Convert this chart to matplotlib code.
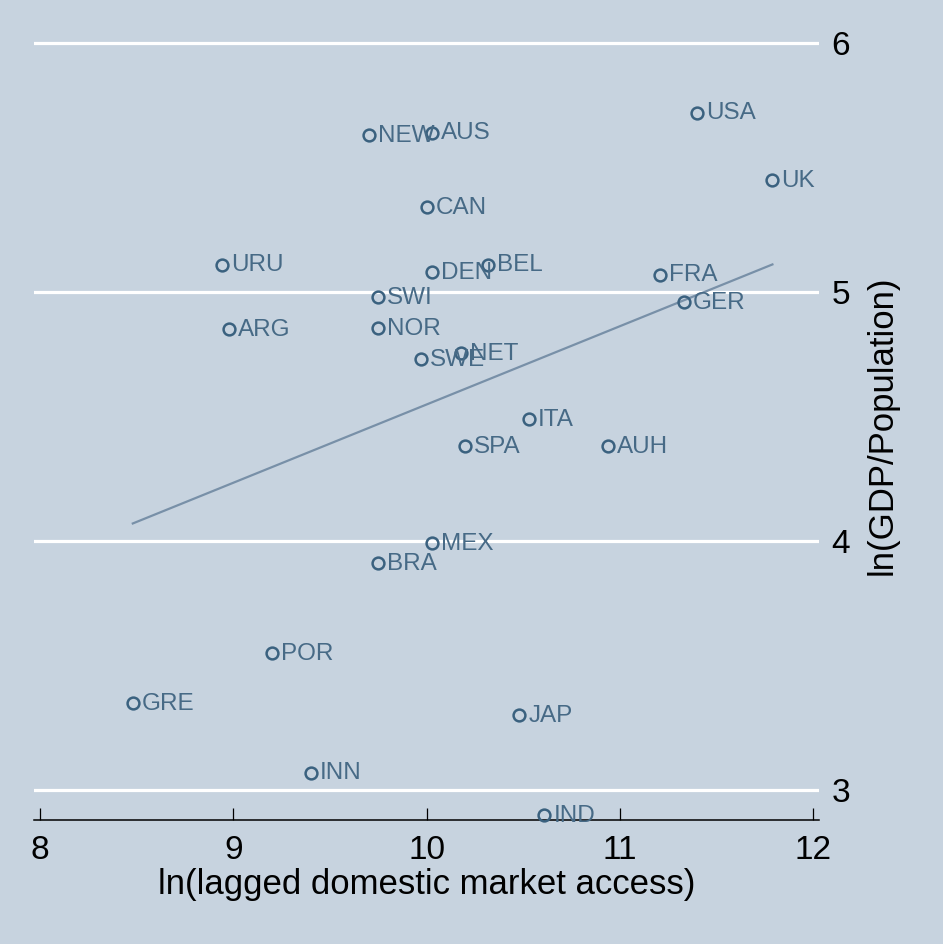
import matplotlib
matplotlib.use("Agg")
import matplotlib.pyplot as plt
import numpy as np

# country codes and values
countries = ["USA", "NEW", "AUS", "UK", "CAN", "URU", "DEN", "BEL", "FRA",
             "SWI", "GER", "ARG", "NOR", "SWE", "NET", "ITA", "SPA", "AUH",
             "MEX", "BRA", "POR", "GRE", "JAP", "INN", "IND"]
market_access = [11.40, 9.70, 10.03, 11.79, 10.00, 8.94, 10.03, 10.32, 11.21,
                 9.75, 11.33, 8.98, 9.75, 9.97, 10.18, 10.53, 10.20, 10.94,
                 10.03, 9.75, 9.20, 8.48, 10.48, 9.40, 10.61]
gdp_pc = [5.72, 5.63, 5.64, 5.45, 5.34, 5.11, 5.08, 5.11, 5.07,
          4.98, 4.96, 4.85, 4.855, 4.73, 4.755, 4.49, 4.38, 4.38,
          3.99, 3.91, 3.55, 3.35, 3.30, 3.07, 2.90]

# fitted line (intercept, slope)
fit_intercept = 1.406
fit_slope = 0.3142

x_ticks = [8, 9, 10, 11, 12]
y_ticks = [3, 4, 5, 6]

bg = "#C7D3DF"
marker_col = "#3A617F"
text_col = "#476A86"
line_col = "#7890A8"

plt.rcParams["font.family"] = ["Liberation Sans", "DejaVu Sans"]

fig = plt.figure(figsize=(9.43, 9.44), dpi=100, facecolor=bg)
ax = fig.add_axes([0.0361, 0.1314, 0.8324, 0.8369])
ax.set_facecolor(bg)

ax.set_xlim(7.969, 12.031)
ax.set_ylim(2.88, 6.052)

for yv in y_ticks:
    ax.axhline(yv, color="white", lw=2.3, zorder=1)

ax.plot(market_access, gdp_pc, "o", ms=8.5, mfc="none", mec=marker_col,
        mew=1.8, zorder=3, clip_on=False)
for name, xv, yv in zip(countries, market_access, gdp_pc):
    ax.annotate(name, (xv, yv), xytext=(6.5, -0.5), textcoords="offset points",
                ha="left", va="center", fontsize=17.5, color=text_col,
                zorder=4, annotation_clip=False)

xs = np.array([min(market_access), max(market_access)])
ax.plot(xs, fit_intercept + fit_slope * xs, color=line_col, lw=1.6, zorder=2)

for side in ("top", "left", "right"):
    ax.spines[side].set_visible(False)
ax.spines["bottom"].set_linewidth(1.1)

ax.set_xticks(x_ticks)
ax.tick_params(axis="x", direction="in", length=9, width=0.9,
               labelsize=24, pad=11)
ax.yaxis.tick_right()
ax.set_yticks(y_ticks)
ax.tick_params(axis="y", length=0, labelsize=24, pad=9)

ax.set_xlabel("ln(lagged domestic market access)", fontsize=25, labelpad=1)
ax.yaxis.set_label_position("right")
ax.set_ylabel("ln(GDP/Population)", fontsize=25, labelpad=11)

fig.savefig("out.png", dpi=100, facecolor=bg)
